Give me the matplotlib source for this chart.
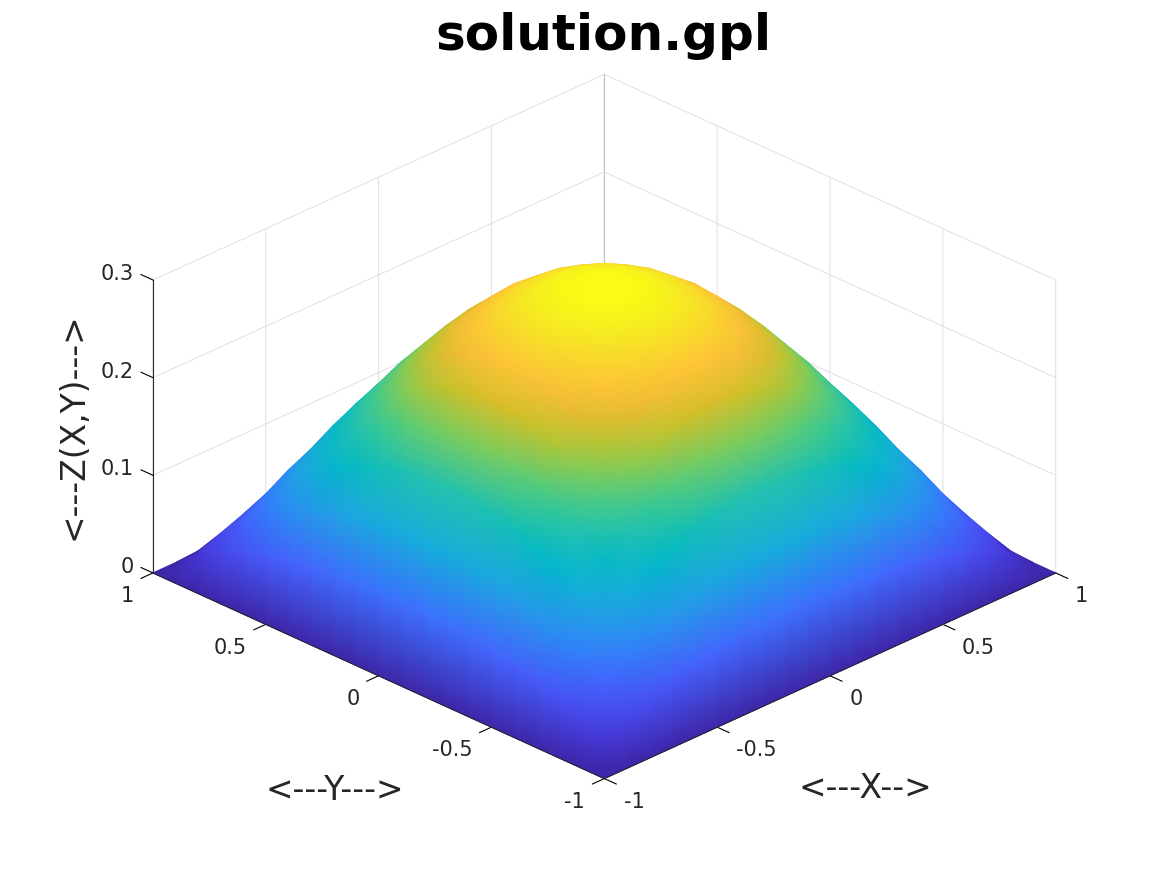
import numpy as np
import matplotlib
matplotlib.use('Agg')
import matplotlib.pyplot as plt
from matplotlib.collections import QuadMesh
from matplotlib.colors import LinearSegmentedColormap, Normalize
from matplotlib.lines import Line2D
from mpl_toolkits.mplot3d import proj3d

# === Values ===
# grid runs 1 .. -1 so the far side is painted first
grid_x = [1.0, 0.9, 0.8, 0.7, 0.6, 0.5, 0.4, 0.3, 0.2, 0.1, 0.0,
          -0.1, -0.2, -0.3, -0.4, -0.5, -0.6, -0.7, -0.8, -0.9, -1.0]
grid_y = list(grid_x)

# height over one quarter of the square, x = 0 .. 1 (rows), y = 0 .. 1 (columns)
z_quarter = [
    [.2947, .2926, .2850, .2720, .2540, .2296, .1990, .1613, .1160, .0627, 0],
    [.2926, .2899, .2824, .2698, .2516, .2276, .1973, .1601, .1150, .0623, 0],
    [.2850, .2824, .2750, .2627, .2450, .2218, .1925, .1564, .1130, .0611, 0],
    [.2720, .2698, .2627, .2508, .2340, .2121, .1844, .1501, .1088, .0590, 0],
    [.2540, .2516, .2450, .2340, .2180, .1986, .1730, .1416, .1030, .0560, 0],
    [.2296, .2276, .2218, .2121, .1986, .1810, .1585, .1300, .0945, .0518, 0],
    [.1990, .1973, .1925, .1844, .1730, .1585, .1400, .1147, .0840, .0462, 0],
    [.1613, .1601, .1564, .1501, .1416, .1300, .1147, .0950, .0700, .0390, 0],
    [.1160, .1150, .1130, .1088, .1030, .0945, .0840, .0700, .0520, .0300, 0],
    [.0627, .0623, .0611, .0590, .0560, .0518, .0462, .0390, .0300, .0180, 0],
    [0, 0, 0, 0, 0, 0, 0, 0, 0, 0, 0],
]

xy_ticks = [-1, -0.5, 0, 0.5, 1]
xy_tick_labels = ['-1', '-0.5', '0', '0.5', '1']
z_ticks = [0, 0.1, 0.2, 0.3]
z_tick_labels = ['0', '0.1', '0.2', '0.3']

# every third entry of parula(64)
parula_colors = [(.2422, .1504, .6603), (.2647, .1978, .7952), (.2783, .2559, .8991),
                 (.2810, .3228, .9579), (.2699, .3892, .9906), (.2206, .4603, .9973),
                 (.1786, .5289, .9682), (.1540, .5902, .9218), (.1248, .6459, .8883),
                 (.0689, .6948, .8394), (.0036, .7203, .7917), (.0433, .7411, .7394),
                 (.1408, .7584, .6842), (.2161, .7843, .5923), (.3406, .8008, .4789),
                 (.5044, .7993, .3480), (.6720, .7793, .2227), (.8203, .7498, .1535),
                 (.9393, .7288, .2100), (.9970, .7659, .2199), (.9786, .8386, .1766),
                 (.9597, .9135, .1423), (.9769, .9839, .0805)]

TEXT = '#262626'
GRID = '#e3e3e3'

# the surface is symmetric, so mirror the quarter into the full square
quarter = np.array(z_quarter)
half = np.vstack([quarter[:0:-1], quarter])
Z = np.hstack([half[:, :0:-1], half])
X, Y = np.meshgrid(grid_x, grid_y, indexing='ij')

parula = LinearSegmentedColormap.from_list('parula', parula_colors, N=256)

fig = plt.figure(figsize=(11.67, 8.75), dpi=100)
ax = fig.add_axes([155 / 1167, -0.8 / 875, 875 / 1167, 1.0], projection='3d',
                  proj_type='ortho')
ax.view_init(elev=27.1, azim=-135)
ax.set_box_aspect((1, 1, 0.5155), zoom=1.066)
ax.set_xlim(-1, 1, view_margin=0)
ax.set_ylim(-1, 1, view_margin=0)
ax.set_zlim(0, 0.3, view_margin=0)

ax.set_xticks(xy_ticks, xy_tick_labels, fontsize=15, color=TEXT, ha='left', va='center_baseline')
ax.set_yticks(xy_ticks, xy_tick_labels, fontsize=15, color=TEXT, ha='right', va='center_baseline')
ax.set_zticks(z_ticks, z_tick_labels, fontsize=15, color=TEXT, ha='right', va='baseline')
ax.tick_params(axis='x', pad=6)
ax.tick_params(axis='y', pad=6)
ax.tick_params(axis='z', pad=-1)
ax.zaxis.set_ticks_position('upper')
ax.zaxis.set_label_position('upper')
# z ticks run along y in the reference, mplot3d would pick x here
ax.zaxis._get_tickdir = lambda position: 1

for axis in (ax.xaxis, ax.yaxis, ax.zaxis):
    axis.set_pane_color((1, 1, 1, 0))
    axis.pane.set_edgecolor(GRID)
    axis.line.set_color(TEXT)
    axis.line.set_linewidth(0.8)
    axis._axinfo['grid'].update(color=GRID, linewidth=0.8)
    axis._axinfo['tick'].update(inward_factor=0.33, outward_factor=0.0)
    axis.set_rotate_label(False)
ax.zaxis._axinfo['tick'].update(inward_factor=0.0, outward_factor=0.33)

# mplot3d resets the label alignment from _axinfo on every draw
ax.xaxis._axinfo['label'].update(ha='right')
ax.yaxis._axinfo['label'].update(ha='left', va='baseline')

ax.set_xlabel('<---X-->', fontsize=23.7, color=TEXT, rotation=0, labelpad=53)
ax.set_ylabel('<---Y--->', fontsize=23.7, color=TEXT, rotation=0, labelpad=61)
ax.set_zlabel('<---Z(X,Y)--->', fontsize=23.7, color=TEXT, rotation=90, labelpad=8)

# corner line of the two back walls reads darker than the other grid lines
ax.plot([1, 1], [1, 1], [0, 0.3], color='#c4c4c4', linewidth=0.8)

# mplot3d only has flat facets, so the surface goes in as a gouraud mesh
# through the 3d axes projection
px, py, _ = proj3d.proj_transform(X.ravel(), Y.ravel(), Z.ravel(), ax.get_proj())
coords = np.dstack([np.reshape(px, X.shape), np.reshape(py, X.shape)])
mesh = QuadMesh(coords, shading='gouraud', antialiased=False,
                cmap=parula, norm=Normalize(0, 0.293),
                transform=ax.transData, zorder=2)
mesh.set_array(Z.ravel())
fig.add_artist(mesh)

# the front axis lines stay visible along the edge of the surface
ex, ey, _ = proj3d.proj_transform([-1, -1, 1], [1, -1, -1], [0, 0, 0], ax.get_proj())
fig.add_artist(Line2D(ex, ey, color=TEXT, linewidth=0.6, transform=ax.transData, zorder=3))

fig.text(603 / 1167, 1 - 36 / 875, 'solution.gpl', fontsize=36, fontweight='bold',
         color='black', ha='center', va='center')

fig.savefig('out.png', dpi=100)
